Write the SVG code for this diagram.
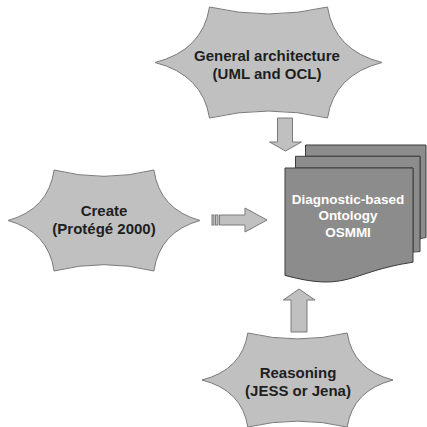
<svg xmlns="http://www.w3.org/2000/svg" width="427" height="427" viewBox="0 0 427 427">
<style>
.star{fill:#c0c0c0;stroke:#7a7a7a;stroke-width:1}
.page{fill:#8c8c8c;stroke:#3c3c3c;stroke-width:1}
.arrow{fill:#c0c0c0;stroke:#7a7a7a;stroke-width:1}
.lbl{font-family:"Liberation Sans",Arial,sans-serif;font-weight:bold;font-size:15px;fill:#1e1e1e;text-anchor:middle}
.doc{font-family:"Liberation Sans",Arial,sans-serif;font-weight:bold;font-size:13.5px;fill:#ffffff;text-anchor:middle}
</style>
<rect width="427" height="427" fill="#ffffff"/>
<g id="node-general">
<path class="star" d="M155 62.5 Q202.7 50.3 209.5 7 Q268.5 20.9 327.5 7 Q334.3 50.3 382 62.5 Q334.3 74.7 327.5 118 Q268.5 104.1 209.5 118 Q202.7 74.7 155 62.5Z"/>
<text class="lbl" x="267" y="61">General architecture</text>
<text class="lbl" x="267" y="79">(UML and OCL)</text>
</g>
<g id="node-create">
<path class="star" d="M8 220.5 Q48.3 209.4 54.1 170 Q104 182.6 153.9 170 Q159.7 209.4 200 220.5 Q159.7 231.6 153.9 271 Q104 258.4 54.1 271 Q48.3 231.6 8 220.5Z"/>
<text class="lbl" x="104" y="216">Create</text>
<text class="lbl" x="104" y="234">(Protégé 2000)</text>
</g>
<g id="node-reasoning">
<path class="star" d="M202 380 Q242.1 369.7 247.8 333 Q297.5 344.8 347.2 333 Q352.9 369.7 393 380 Q352.9 390.3 347.2 427 Q297.5 415.3 247.8 427 Q242.1 390.3 202 380Z"/>
<text class="lbl" x="298" y="378">Reasoning</text>
<text class="lbl" x="298" y="396">(JESS or Jena)</text>
</g>
<g id="node-ontology">
<path class="page" d="M305.5 156.3 V145 H426 V237.6 C423 237.8 420 239 420 239 V156.3 Z"/>
<path class="page" d="M295.5 168 V156.3 H420 V251.6 C417 251.8 413 252.1 413 252.1 V168 Z"/>
<path class="page" d="M285 168 H413 V262.2 C349 271.7 349 292.7 285 275.4 Z"/>
<text class="doc" x="348" y="203.5">Diagnostic-based</text>
<text class="doc" x="348" y="220">Ontology</text>
<text class="doc" x="348" y="236.5">OSMMI</text>
</g>
<g id="connectors">
<path class="arrow" d="M277.5 118 H292.5 V142 H301.5 L285.5 151 L269.5 142 H277.5 Z"/>
<rect class="arrow" x="212" y="215" width="2" height="10"/>
<rect class="arrow" x="215.5" y="215" width="2.5" height="10"/>
<path class="arrow" d="M219.5 215 H245 V208 L267 220 L245 232 V225 H219.5 Z"/>
<path class="arrow" d="M291 332 V300 H283.3 L299 289 L315 300 H307 V332 Z"/>
</g>
</svg>
